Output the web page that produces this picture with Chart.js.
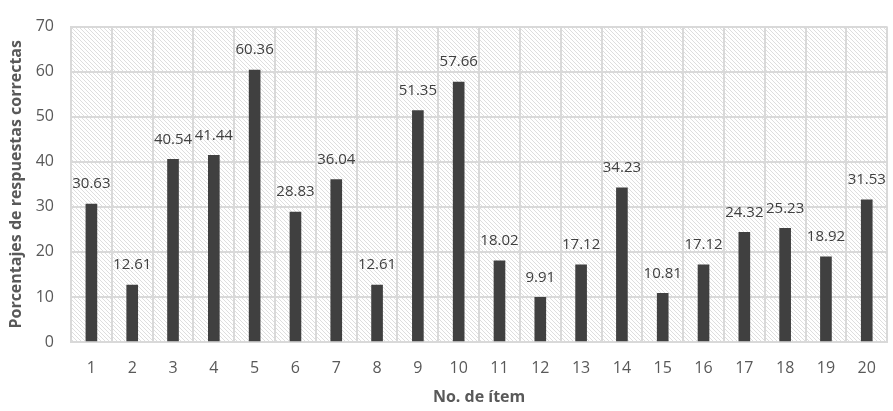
<!DOCTYPE html>
<html>
<head>
<meta charset="utf-8">
<script src="https://cdn.jsdelivr.net/npm/chart.js@4"></script>
<style>
  body { margin: 0; background: #fff; }
  #wrap { width: 893px; height: 411px; position: relative; }
</style>
</head>
<body>
<div id="wrap"><canvas id="myChart"></canvas></div>
<script>
var items = ["1", "2", "3", "4", "5", "6", "7", "8", "9", "10",
  "11", "12", "13", "14", "15", "16", "17", "18", "19", "20"];
var percentages = [30.63, 12.61, 40.54, 41.44, 60.36, 28.83, 36.04, 12.61, 51.35, 57.66,
  18.02, 9.91, 17.12, 34.23, 10.81, 17.12, 24.32, 25.23, 18.92, 31.53];
var yTicks = [0, 10, 20, 30, 40, 50, 60, 70];

var textColor = "#595959";
var gridColor = "#d9d9d9";

// diagonal hatch for the plot background
function makeHatch() {
  var c = document.createElement("canvas");
  c.width = 4;
  c.height = 4;
  var g = c.getContext("2d");
  g.fillStyle = "#ffffff";
  g.fillRect(0, 0, 4, 4);
  g.strokeStyle = "#dadada";
  g.lineWidth = 0.9;
  g.beginPath();
  g.moveTo(-1, -1); g.lineTo(5, 5);
  g.moveTo(-1, 3); g.lineTo(1, 5);
  g.moveTo(3, -1); g.lineTo(5, 1);
  g.stroke();
  return g.createPattern(c, "repeat");
}

var hatchBackground = {
  id: "hatchBackground",
  beforeDraw: function (chart) {
    var a = chart.chartArea;
    var ctx = chart.ctx;
    ctx.save();
    ctx.fillStyle = makeHatch();
    ctx.fillRect(a.left, a.top, a.right - a.left, a.bottom - a.top);
    ctx.restore();
  }
};

var valueLabels = {
  id: "valueLabels",
  afterDatasetsDraw: function (chart) {
    var ctx = chart.ctx;
    var meta = chart.getDatasetMeta(0);
    ctx.save();
    ctx.font = "15px 'Open Sans'";
    ctx.fillStyle = "#404040";
    ctx.textAlign = "center";
    ctx.textBaseline = "middle";
    meta.data.forEach(function (bar, i) {
      ctx.fillText(percentages[i].toFixed(2), bar.x, bar.y - 20);
    });
    ctx.restore();
  }
};

var ctx = document.getElementById("myChart");
var myChart = new Chart(ctx, {
  type: "bar",
  data: {
    labels: items,
    datasets: [{
      data: percentages,
      backgroundColor: "#404040",
      barThickness: 11
    }]
  },
  options: {
    responsive: true,
    maintainAspectRatio: false,
    animation: false,
    layout: { padding: { top: 14, right: 4, left: 0, bottom: 0 } },
    plugins: {
      legend: { display: false },
      tooltip: { enabled: false }
    },
    scales: {
      x: {
        grid: { color: gridColor, lineWidth: 2, drawTicks: false, offset: true },
        border: { color: gridColor, width: 2 },
        ticks: { color: textColor, font: { family: "Open Sans", size: 16 }, padding: 17, maxRotation: 0 },
        title: {
          display: true,
          text: "No. de ítem",
          color: textColor,
          font: { family: "Open Sans", size: 16, weight: "bold" },
          padding: { top: 0, bottom: 4 }
        },
        afterFit: function (scale) { scale.height = 69; }
      },
      y: {
        min: 0,
        max: 70,
        grid: { color: gridColor, lineWidth: 2, drawTicks: false },
        border: { color: gridColor, width: 2 },
        afterBuildTicks: function (scale) {
          scale.ticks = yTicks.map(function (v) { return { value: v }; });
        },
        ticks: { color: textColor, font: { family: "Open Sans", size: 16 }, padding: 17 },
        title: {
          display: true,
          text: "Porcentajes de respuestas correctas",
          color: textColor,
          font: { family: "Open Sans", size: 16, weight: "bold" },
          padding: { top: 7, bottom: 0 }
        },
        afterFit: function (scale) { scale.width = 71; }
      }
    }
  },
  plugins: [hatchBackground, valueLabels]
});
</script>
</body>
</html>
